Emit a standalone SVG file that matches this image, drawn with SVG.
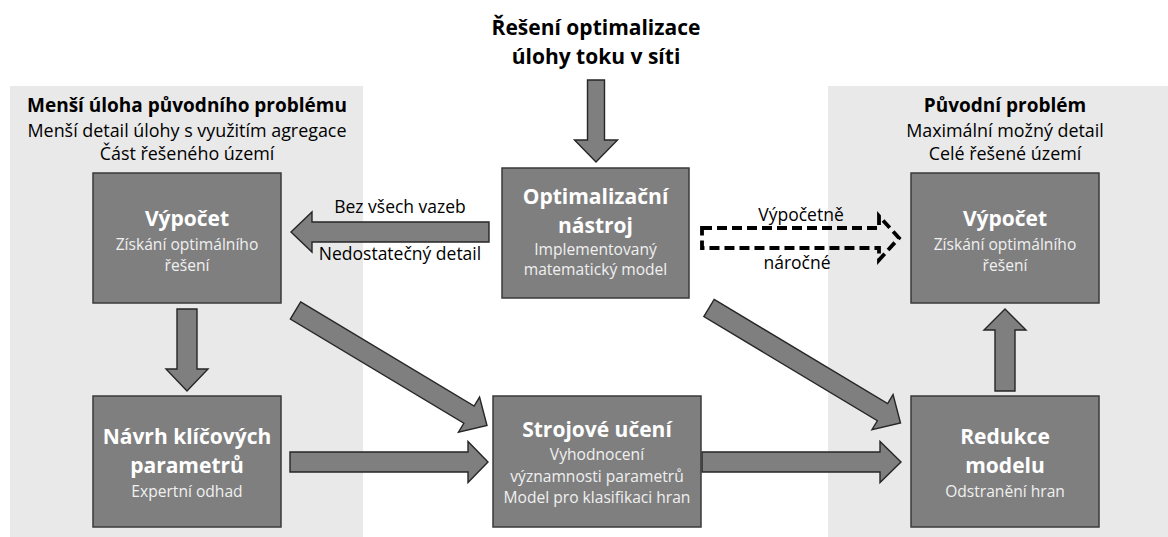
<svg xmlns="http://www.w3.org/2000/svg" width="1168" height="537" viewBox="0 0 1168 537">
<style>
text{font-family:"Open Sans","Liberation Sans",sans-serif;text-anchor:middle}
.ttl{font-weight:700;font-size:21px;fill:#000}
.hb{font-weight:700;font-size:19px;fill:#000}
.hr{font-size:17.9px;fill:#000}
.lbl{font-size:17.5px;fill:#000}
.nt{font-weight:700;font-size:21px;fill:#fff}
.ns{font-size:15.6px;fill:#f0f0f0}
.panel{fill:#e9e9e9}
.box{fill:#7f7f7f;stroke:#3a3a3a;stroke-width:1.5}
.arr{fill:#7f7f7f;stroke:#262626;stroke-width:1.4;stroke-linejoin:miter}
.dash{fill:none;stroke:#000;stroke-width:3.8;stroke-dasharray:10 5}
</style>
<rect width="1168" height="537" fill="#fff"/>

<g id="panel-left">
<rect class="panel" x="10" y="86" width="353" height="451"/>
<text class="hb" x="187" y="112">Menší úloha původního problému</text>
<text class="hr" x="187" y="137">Menší detail úlohy s využitím agregace</text>
<text class="hr" x="187" y="160">Část řešeného území</text>
</g>

<g id="panel-right">
<rect class="panel" x="828" y="86" width="340" height="451"/>
<text class="hb" x="1005" y="112">Původní problém</text>
<text class="hr" x="1005" y="137">Maximální možný detail</text>
<text class="hr" x="1005" y="160">Celé řešené území</text>
</g>

<g id="title">
<text class="ttl" x="596" y="35">Řešení optimalizace</text>
<text class="ttl" x="596" y="64">úlohy toku v síti</text>
</g>

<g id="connectors">
<path class="arr" d="M587.5,80 H604.5 V140 H617.5 L596,162 L574.5,140 H587.5 Z"/>
<path class="arr" d="M489,222 V242 H312 V252 L291,232 L312,212 V222 Z"/>
<text class="lbl" x="400" y="213">Bez všech vazeb</text>
<text class="lbl" x="400" y="260">Nedostatečný detail</text>
<path class="dash" d="M702,228 H879 V216 L899,238 L879,260 V248 H702 Z"/>
<text class="lbl" x="801" y="221">Výpočetně</text>
<text class="lbl" x="797" y="269">náročné</text>
<path class="arr" d="M177,309 H197 V369 H208 L187,391 L166,369 H177 Z"/>
<path class="arr" d="M300.65,301.93 L474.15,406.12 L479.55,397.12 L487,425.5 L458.45,432.26 L463.85,423.26 L290.35,319.07 Z"/>
<path class="arr" d="M714.15,299.43 L887.65,403.62 L893.05,394.62 L900.5,423 L871.95,429.76 L877.35,420.76 L703.85,316.57 Z"/>
<path class="arr" d="M290,452 H468 V441.5 L488,462 L468,482.5 V472 H290 Z"/>
<path class="arr" d="M702,452 H880 V441.5 L901,462 L880,482.5 V472 H702 Z"/>
<path class="arr" d="M995,391 V330 H984 L1005,309 L1026,330 H1015 V391 Z"/>
</g>

<g id="node-vypocet-left">
<rect class="box" x="93" y="173" width="188" height="130"/>
<text class="nt" x="187" y="226">Výpočet</text>
<text class="ns" x="187" y="250">Získání optimálního</text>
<text class="ns" x="187" y="271">řešení</text>
</g>

<g id="node-optimalizacni">
<rect class="box" x="502" y="168" width="187" height="130"/>
<text class="nt" x="595.5" y="204">Optimalizační</text>
<text class="nt" x="595.5" y="233">nástroj</text>
<text class="ns" x="595.5" y="255">Implementovaný</text>
<text class="ns" x="595.5" y="275">matematický model</text>
</g>

<g id="node-vypocet-right">
<rect class="box" x="911" y="173" width="188" height="130"/>
<text class="nt" x="1005" y="226">Výpočet</text>
<text class="ns" x="1005" y="250">Získání optimálního</text>
<text class="ns" x="1005" y="271">řešení</text>
</g>

<g id="node-navrh">
<rect class="box" x="93" y="396" width="188" height="131"/>
<text class="nt" x="187" y="444">Návrh klíčových</text>
<text class="nt" x="187" y="473">parametrů</text>
<text class="ns" x="187" y="497">Expertní odhad</text>
</g>

<g id="node-strojove">
<rect class="box" x="493" y="396" width="208" height="131"/>
<text class="nt" x="597" y="437">Strojové učení</text>
<text class="ns" x="597" y="460">Vyhodnocení</text>
<text class="ns" x="597" y="482">významnosti parametrů</text>
<text class="ns" x="597" y="503">Model pro klasifikaci hran</text>
</g>

<g id="node-redukce">
<rect class="box" x="911" y="396" width="188" height="131"/>
<text class="nt" x="1005" y="444">Redukce</text>
<text class="nt" x="1005" y="473">modelu</text>
<text class="ns" x="1005" y="497">Odstranění hran</text>
</g>
</svg>
